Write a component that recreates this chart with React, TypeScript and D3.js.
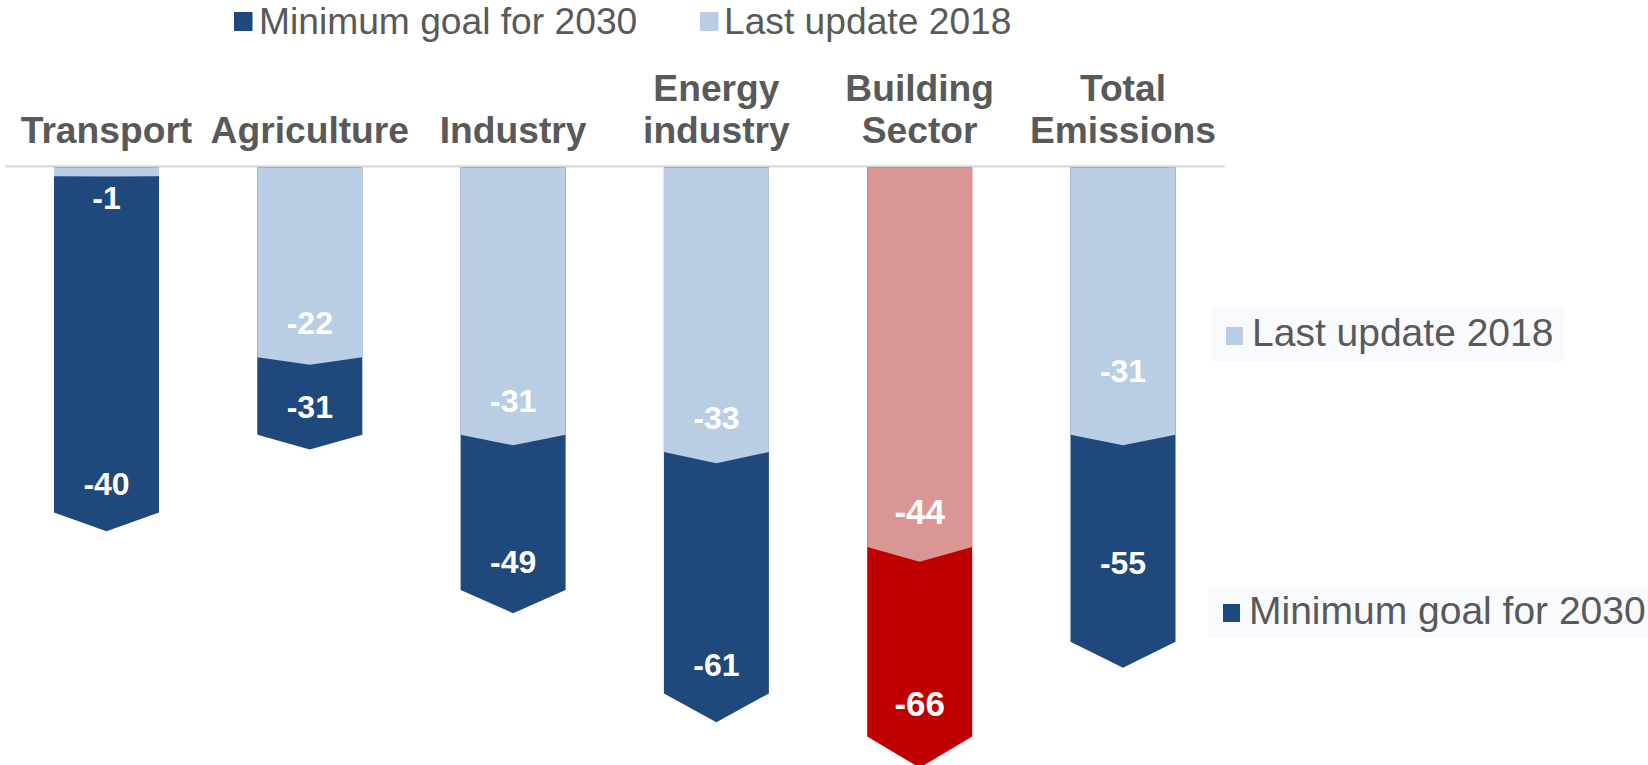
import React from "react";
import * as d3 from "d3";

const categories = ["Transport", "Agriculture", "Industry", "Energy industry", "Building Sector", "Total Emissions"];
const lastUpdate2018 = [-1, -22, -31, -33, -44, -31];
const minimumGoal2030 = [-40, -31, -49, -61, -66, -55];
const seriesNames = ["Minimum goal for 2030", "Last update 2018"];
const highlightCategory = "Building Sector";
const totalCategory = "Total Emissions";

const W = 1648;
const H = 765;
const FONT = "Arial, 'Liberation Sans', Helvetica, sans-serif";
const GREY = "#595959";
const DARK = "#1F497D";
const LIGHT = "#B9CDE5";
const RED = "#C00000";
const LIGHT_RED = "#D99694";

export default function App() {
  const x = d3
    .scaleBand<string>()
    .domain(categories)
    .range([4.85, 1224.65])
    .paddingInner(0.4835)
    .paddingOuter(0.24175);
  const y = d3.scaleLinear().domain([0, -70]).range([167.6, 167.6 + 70 * 8.62]);
  const y0 = y(0);
  const line = d3.line<[number, number]>();

  const arrow = (cat: string, v: number, depthFrac: number) => {
    const x0 = x(cat)!;
    const x1 = x0 + x.bandwidth();
    const cx = x0 + x.bandwidth() / 2;
    const ys = y(v);
    const d = depthFrac * (ys - y0);
    const pts: [number, number][] = [
      [x0, y0],
      [x1, y0],
      [x1, ys],
      [cx, ys + d],
      [x0, ys],
    ];
    return line(pts)! + "Z";
  };

  return (
    <svg
      width={W}
      height={H}
      viewBox={`0 0 ${W} ${H}`}
      style={{ position: "absolute", left: 0, top: 0, display: "block", background: "#fff" }}
      fontFamily={FONT}
    >
      {/* top legend */}
      <rect x={234} y={12} width={18.5} height={19} fill={DARK} />
      <text x={259} y={33.5} fontSize={37.2} fill={GREY}>{seriesNames[0]}</text>
      <rect x={700} y={12} width={18.5} height={19} fill={LIGHT} />
      <text x={724} y={33.5} fontSize={37.2} fill={GREY}>{seriesNames[1]}</text>

      {/* category labels */}
      {categories.map((c) => {
        const words = c.split(" ");
        const cx = x(c)! + x.bandwidth() / 2;
        return (
          <text key={c} x={cx} textAnchor="middle" fontSize={37.2} fontWeight="bold" fill={GREY}>
            {words.map((w, i) => (
              <tspan key={i} x={cx} y={142.7 - (words.length - 1 - i) * 42}>
                {w}
              </tspan>
            ))}
          </text>
        );
      })}

      {/* baseline */}
      <line x1={5} x2={1224.6} y1={166.3} y2={166.3} stroke="#D9D9D9" strokeWidth={2.2} />

      {/* bars */}
      {categories.map((c, i) => {
        const hl = c === highlightCategory;
        const isTotal = c === totalCategory;
        const cx = x(c)! + x.bandwidth() / 2;
        const vDark = minimumGoal2030[i];
        const vLight = lastUpdate2018[i];
        const ysDark = y(vDark);
        const ysLight = y(vLight);
        const fs = hl ? 35 : 32;
        const smallLight = ysLight - y0 < 40;
        const lightLabelY = smallLight ? ysLight + 33 : ysLight - (isTotal ? 53 : 23);
        const darkLabelY = ysDark - (isTotal ? 68 : hl ? 21 : 17);
        return (
          <g key={c}>
            <path d={arrow(c, vDark, 0.055)} fill={hl ? RED : DARK} />
            <path d={arrow(c, vLight, 0.039)} fill={hl ? LIGHT_RED : LIGHT} />
            <text x={cx} y={lightLabelY} textAnchor="middle" fontSize={fs} fontWeight="bold" fill="#fff">
              {vLight}
            </text>
            <text x={cx} y={darkLabelY} textAnchor="middle" fontSize={fs} fontWeight="bold" fill="#fff">
              {vDark}
            </text>
          </g>
        );
      })}

      {/* right legends */}
      <rect x={1212} y={308} width={352} height={54} fill="#F8FAFD" />
      <rect x={1226} y={327} width={17} height={18} fill={LIGHT} />
      <text x={1252} y={346} fontSize={39} fill={GREY}>{seriesNames[1]}</text>

      <rect x={1208} y={585} width={440} height={53} fill="#F8FAFD" />
      <rect x={1223} y={604} width={17} height={18} fill={DARK} />
      <text x={1249} y={623.5} fontSize={39} fill={GREY}>{seriesNames[0]}</text>
    </svg>
  );
}
